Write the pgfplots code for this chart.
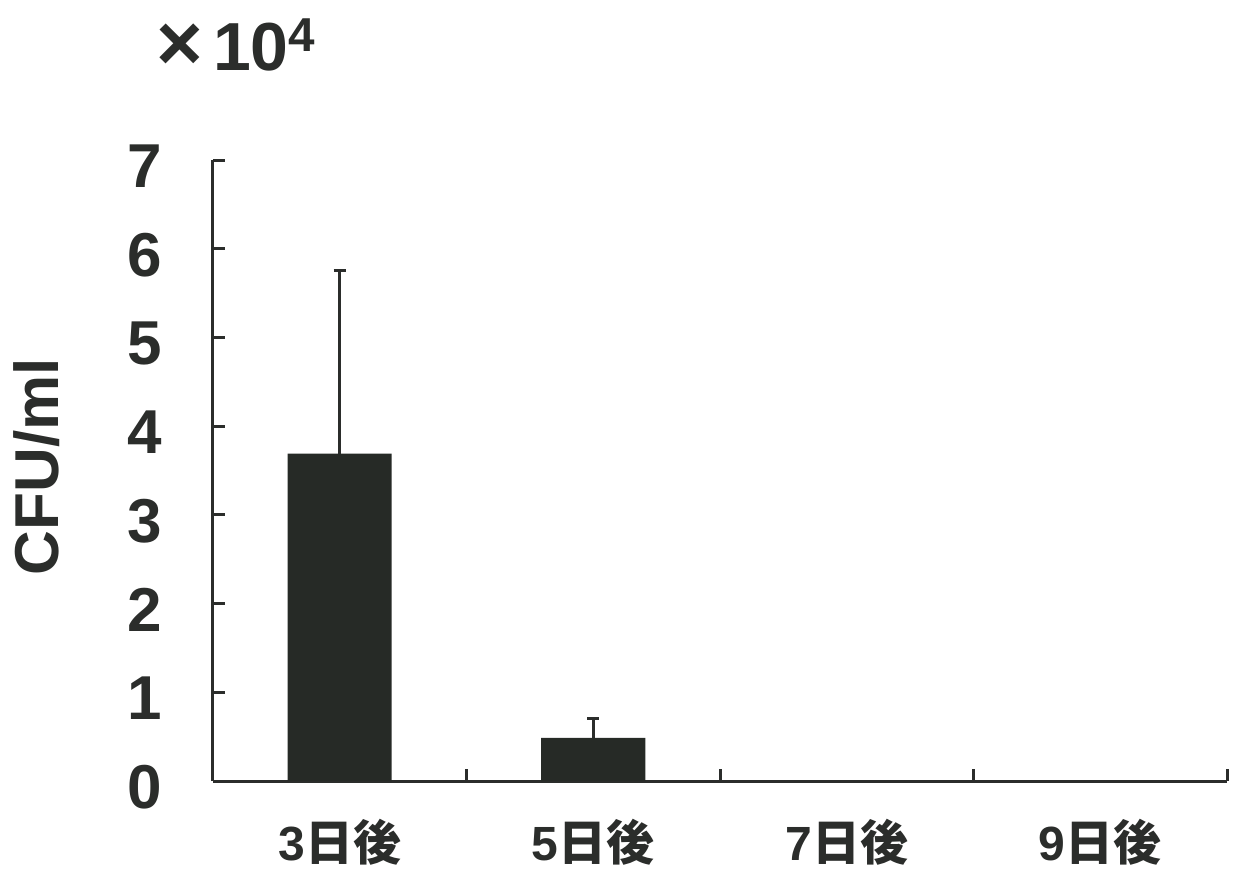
\documentclass[border=0pt]{standalone}
\usepackage{fontspec}
\setmainfont{Liberation Sans}
\newfontfamily\cjk{Noto Sans CJK JP}
\usepackage{pgfplots}
\pgfplotsset{compat=1.18}
\definecolor{barc}{HTML}{262A26}
\definecolor{axc}{HTML}{2B2D2B}
\begin{document}
\begin{tikzpicture}
\begin{axis}[
  at={(0,0)}, anchor=south west,
  scale only axis, width=507pt, height=310.5pt,
  xmin=-0.5, xmax=3.5, ymin=0, ymax=7,
  clip=false,
  axis x line=bottom, axis y line=left,
  axis line style={-, line width=1.5pt, color=axc},
  tick align=inside, major tick length=6pt,
  tick style={line width=1.5pt, color=axc},
  ytick={0,1,2,3,4,5,6,7},
  /pgf/number format/assume math mode=true,
  yticklabel style={anchor=east, inner sep=0pt, xshift=-25.5pt, yshift=-3pt,
    font=\bfseries\fontsize{31}{31}\selectfont, text=axc},
  xtick={0.5,1.5,2.5,3.5}, xticklabels={},
  extra x ticks={0,1,2,3},
  extra x tick labels={3{\cjk 日後},5{\cjk 日後},7{\cjk 日後},9{\cjk 日後}},
  extra x tick style={major tick length=0pt,
    xticklabel style={anchor=base, inner sep=0pt, yshift=-39.5pt,
      font=\bfseries\fontsize{24}{24}\selectfont, text=axc}},
]
\addplot[ybar, bar width=52pt, fill=barc, draw=none,
  error bars/.cd, y dir=plus, y explicit,
  error bar style={line width=1.5pt, color=axc},
  error mark options={rotate=90, line width=1.5pt, mark size=3pt, color=axc}]
  coordinates {(0,3.69) +- (0,2.06) (1,0.485) +- (0,0.215) (2,0) +- (0,0) (3,0) +- (0,0)};
\end{axis}
\node[rotate=90, anchor=center, font=\bfseries\fontsize{31}{31}\selectfont, text=axc]
  at ([xshift=-88pt, yshift=2pt]current axis.west) {CFU/ml};
\node[anchor=base west, inner sep=0pt, font=\bfseries\fontsize{34}{34}\selectfont, text=axc]
  at ([xshift=-28.5pt, yshift=45pt]current axis.north west) {{\fontsize{40}{40}\selectfont ×}\hspace{5pt}10\textsuperscript{4}};
\pgfresetboundingbox
\path[use as bounding box] (-106.5pt,-46.5pt) rectangle (511.5pt,390.5pt);
\end{tikzpicture}
\end{document}
